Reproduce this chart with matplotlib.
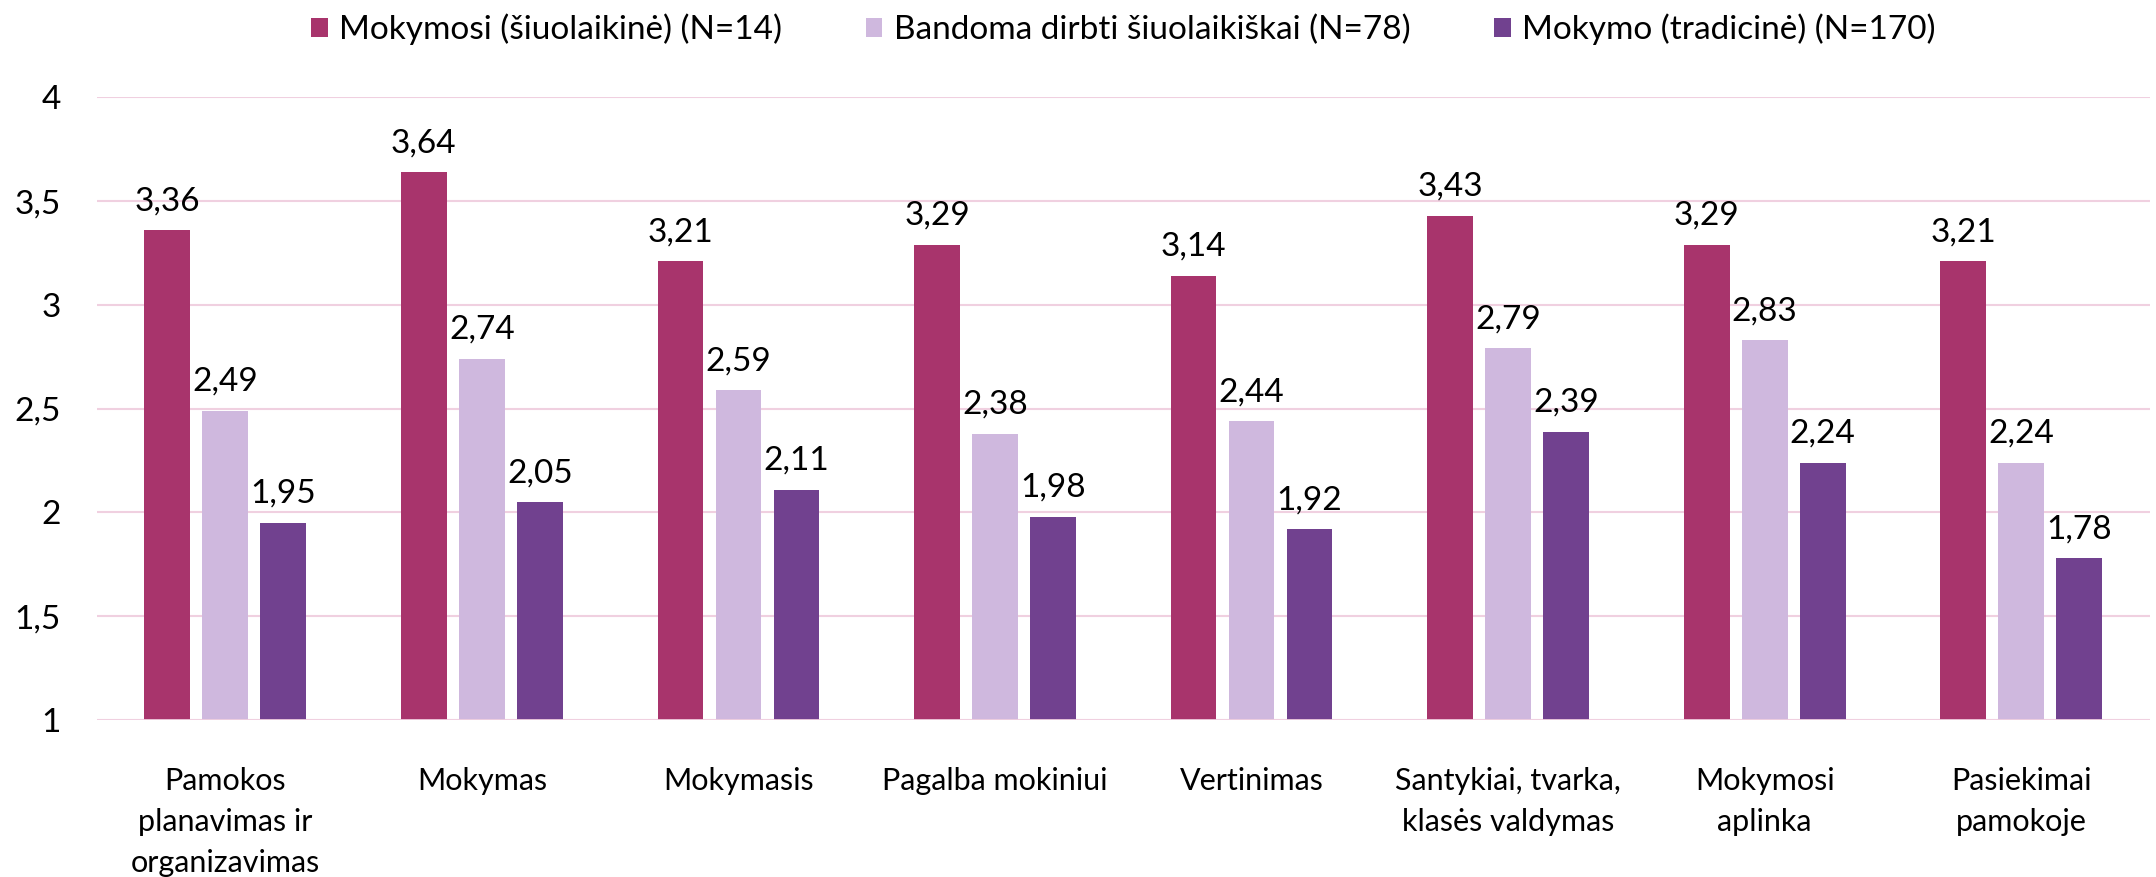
import numpy as np
import matplotlib
matplotlib.use("Agg")
import matplotlib.pyplot as plt

plt.rcParams['font.family'] = ['Lato', 'DejaVu Sans']

categories = ["Pamokos\nplanavimas ir\norganizavimas", "Mokymas", "Mokymasis",
              "Pagalba mokiniui", "Vertinimas", "Santykiai, tvarka,\nklasės valdymas",
              "Mokymosi\naplinka", "Pasiekimai\npamokoje"]
series_names = ["Mokymosi (šiuolaikinė) (N=14)",
                "Bandoma dirbti šiuolaikiškai (N=78)",
                "Mokymo (tradicinė) (N=170)"]
modern = [3.36, 3.64, 3.21, 3.29, 3.14, 3.43, 3.29, 3.21]
trying = [2.49, 2.74, 2.59, 2.38, 2.44, 2.79, 2.83, 2.24]
traditional = [1.95, 2.05, 2.11, 1.98, 1.92, 2.39, 2.24, 1.78]
yticks = [1, 1.5, 2, 2.5, 3, 3.5, 4]

colors = ["#A8346C", "#CFB8DE", "#71418F"]
grid_col = "#F0D0E0"

fig = plt.figure(figsize=(21.56, 8.77), dpi=100)
ax = fig.add_axes([0.045, 0.179, 0.952, 0.71])

x = np.arange(len(categories))
step = 0.226
width = 0.178
for i, (vals, name) in enumerate(zip([modern, trying, traditional], series_names)):
    pos = x + (i - 1) * step
    ax.bar(pos, vals, width, color=colors[i], label=name, zorder=3)
    for xp, v in zip(pos, vals):
        ax.annotate(f"{v:.2f}".replace('.', ','), (xp, v), xytext=(0, 10),
                    textcoords='offset points', ha='center', va='bottom', fontsize=24)

ax.set_ylim(1, 4)
ax.set_xlim(-0.5, len(categories) - 0.5)
ax.set_yticks(yticks)
ax.set_yticklabels([f"{t:g}".replace('.', ',') for t in yticks], fontsize=24)
ax.set_xticks(x)
ax.set_xticklabels(categories, fontsize=22, linespacing=1.55)
ax.tick_params(axis='y', length=0, pad=26)
ax.tick_params(axis='x', length=0, pad=34)
ax.yaxis.grid(True, color=grid_col, linewidth=1.5, zorder=0)
for s in ax.spines.values():
    s.set_visible(False)
ax.axhline(1, color=grid_col, linewidth=2, zorder=4)

ax.legend(loc='center', bbox_to_anchor=(0.5, 1.109), ncol=3, frameon=False,
          fontsize=24, handlelength=0.5, handleheight=0.5, handletextpad=0.35,
          columnspacing=2.5)

fig.savefig("out.png", dpi=100)
